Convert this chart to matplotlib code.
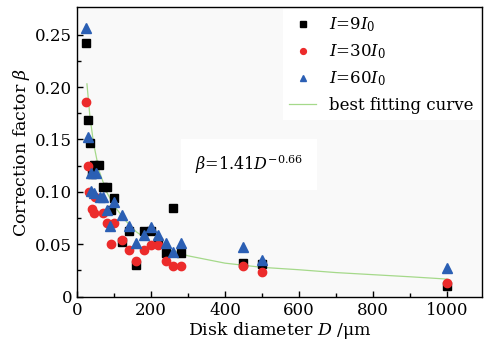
import numpy as np
import matplotlib
matplotlib.use('Agg')
import matplotlib.pyplot as plt

plt.rcParams['font.family'] = 'DejaVu Serif'
plt.rcParams['mathtext.fontset'] = 'dejavuserif'

# I = 9 I0
d_9 = [25, 31, 36, 45, 60, 40, 71, 80, 92, 101, 121, 140, 160, 180, 200, 220, 240, 260, 280, 450, 500, 1000]
b_9 = [0.242, 0.169, 0.147, 0.126, 0.126, 0.117, 0.105, 0.105, 0.083, 0.094, 0.052, 0.063,
       0.030, 0.063, 0.063, 0.052, 0.042, 0.085, 0.042, 0.032, 0.031, 0.010]

# I = 30 I0
d_30 = [25, 30, 33, 40, 45, 48, 70, 81, 91, 99, 121, 140, 160, 180, 200, 220, 240, 260, 280, 450, 500, 1000]
b_30 = [0.186, 0.125, 0.100, 0.084, 0.080, 0.095, 0.080, 0.070, 0.050, 0.070, 0.054, 0.045,
        0.034, 0.045, 0.049, 0.049, 0.034, 0.029, 0.029, 0.029, 0.024, 0.0135]

# I = 60 I0
d_60 = [25, 29, 37, 51, 39, 46, 61, 71, 81, 89, 101, 121, 140, 160, 180, 200, 220, 240, 260, 280, 450, 500, 1000]
b_60 = [0.256, 0.152, 0.118, 0.118, 0.101, 0.099, 0.095, 0.095, 0.083, 0.067, 0.090, 0.078,
        0.067, 0.051, 0.059, 0.066, 0.059, 0.051, 0.043, 0.051, 0.047, 0.035, 0.027]

# best fitting curve
d_fit = [27, 35, 45, 60, 80, 100, 130, 160, 200, 250, 300, 400, 500, 600, 700, 800, 900, 1000]
b_fit = [0.203, 0.172, 0.146, 0.120, 0.100, 0.087, 0.073, 0.062, 0.052, 0.045, 0.039, 0.032,
         0.028, 0.0257, 0.023, 0.021, 0.019, 0.0168]

fig = plt.figure(figsize=(4.84, 3.42), dpi=100)
ax = fig.add_axes([0.159, 0.1325, 0.837, 0.846])
ax.set_facecolor('#f9f9f9')

ax.plot(d_9, b_9, 's', color='black', ms=5.8, linestyle='none', label='$I$=9$I_0$', zorder=3)
ax.plot(d_30, b_30, 'o', color='#ec2b2b', ms=6, linestyle='none', label='$I$=30$I_0$', zorder=3)
ax.plot(d_60, b_60, '^', color='#2b5fb4', ms=6.5, linestyle='none', label='$I$=60$I_0$', zorder=4)
ax.plot(d_fit, b_fit, '-', color='#a5d98a', lw=0.9, label='best fitting curve', zorder=2)

ax.text(318, 0.121, r'$\beta$=1.41$D^{-0.66}$', fontsize=11.5,
        bbox=dict(facecolor='white', edgecolor='none', pad=10), zorder=1)

ax.set_xlim(0, 1095)
ax.set_ylim(0, 0.276)
ax.set_xticks([0, 200, 400, 600, 800, 1000])
ax.set_xticks([100, 300, 500, 700, 900], minor=True)
ax.set_yticks([0, 0.05, 0.10, 0.15, 0.20, 0.25])
ax.set_yticklabels(['0', '0.05', '0.10', '0.15', '0.20', '0.25'])
ax.set_yticks([0.025, 0.075, 0.125, 0.175, 0.225], minor=True)
ax.tick_params(which='both', direction='in', labelsize=12, top=False, right=False)
ax.tick_params(which='major', length=4.5, width=1)
ax.tick_params(which='minor', length=3, width=1)
for s in ax.spines.values():
    s.set_linewidth(1)

ax.set_xlabel(r'Disk diameter $D$ /μm', fontsize=12.5, labelpad=1)
ax.set_ylabel(r'Correction factor $\beta$', fontsize=12.5, labelpad=2)

leg = ax.legend(loc='upper right', fontsize=12, frameon=True, fancybox=False,
                edgecolor='none', facecolor='white', framealpha=1,
                handlelength=1.6, handletextpad=0.8, labelspacing=0.5,
                borderaxespad=0.1, markerscale=0.7)

fig.savefig('out.png', dpi=100)
